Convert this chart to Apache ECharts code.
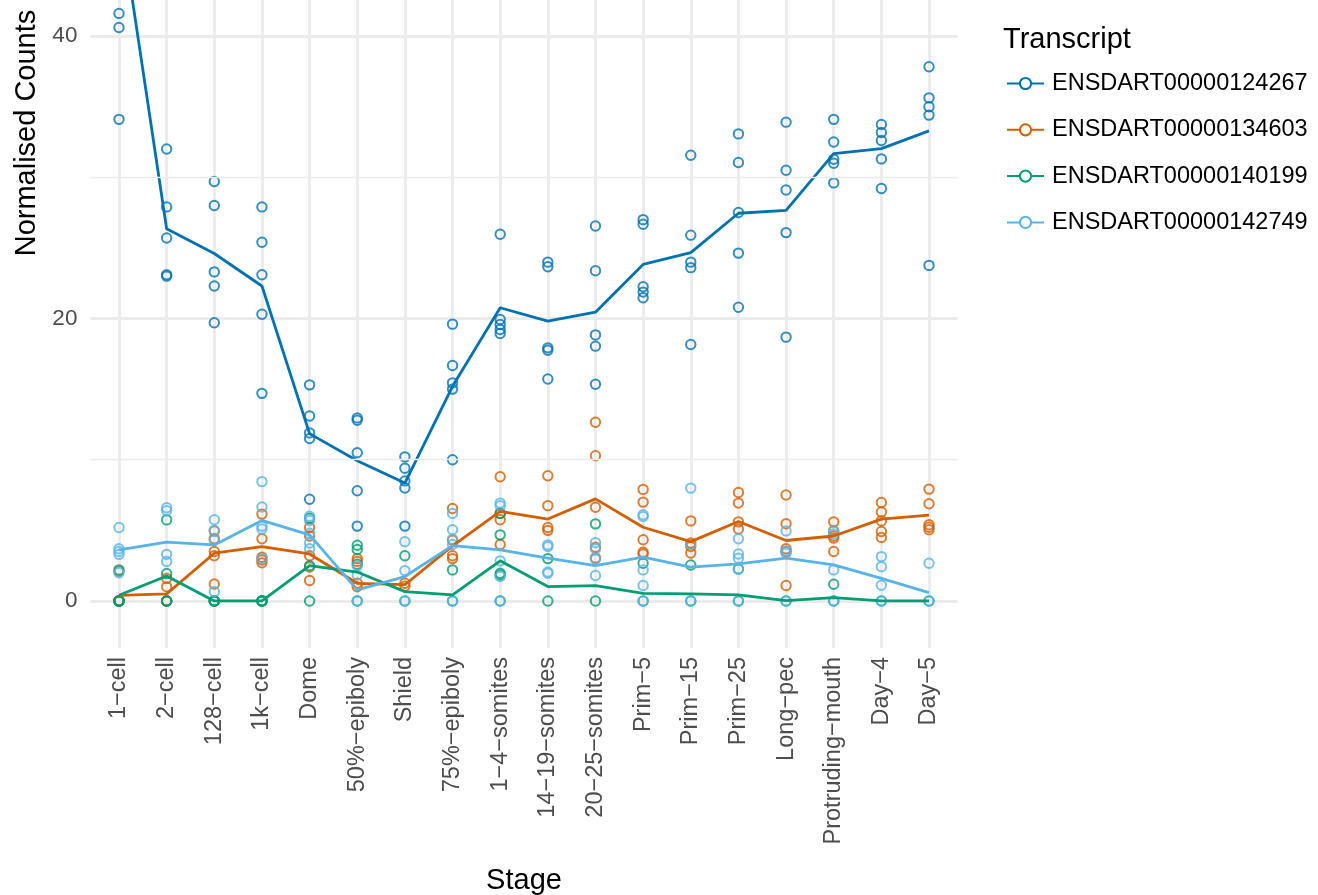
<!DOCTYPE html>
<html><head><meta charset="utf-8">
<script src="https://cdn.jsdelivr.net/npm/echarts@6/dist/echarts.min.js"></script>
<style>html,body{margin:0;padding:0;background:#fff}#c{width:1318px;height:895px}</style>
</head><body><div id="c"></div>
<script>
const stages = ["1\u2212cell","2\u2212cell","128\u2212cell","1k\u2212cell","Dome","50%\u2212epiboly","Shield","75%\u2212epiboly","1\u22124\u2212somites","14\u221219\u2212somites","20\u221225\u2212somites","Prim\u22125","Prim\u221215","Prim\u221225","Long\u2212pec","Protruding\u2212mouth","Day\u22124","Day\u22125"];
const transcripts = ["ENSDART00000124267","ENSDART00000134603","ENSDART00000140199","ENSDART00000142749"];
const colors = ["#0072B2","#D55E00","#009E73","#56B4E9"];
const yLabelValues = [0,20,40];
const yMinorGrid = [10,30];

// replicate points per stage
const pts124267 = [[41.6,40.6,34.1,60.5,68.2],[32.0,27.9,25.7,23.1,23.0],[29.7,28.0,23.3,22.3,19.7],[27.9,25.4,23.1,20.3,14.7],[15.3,13.1,11.9,11.5,7.2],[12.96,12.79,10.5,7.8,5.3],[10.2,9.4,8.5,8.0,5.3],[19.6,16.67,15.44,15.0,10.0],[25.96,19.93,19.57,19.22,18.94],[23.99,23.66,17.92,17.75,15.72],[26.55,23.38,18.84,18.04,15.34],[27.0,26.67,22.25,21.87,21.47],[31.56,25.9,23.99,23.6,18.16],[33.07,31.04,27.5,24.63,20.8],[33.9,30.5,29.1,26.08,18.68],[34.1,32.5,31.28,30.99,29.6],[33.74,33.17,32.6,31.3,29.2],[37.82,35.62,34.99,34.4,23.76]];
const pts134603 = [[2.1,0,0,0,0],[1.6,1.0,0,0,0],[4.95,4.4,3.5,3.2,1.2],[6.15,4.4,3.1,2.9,2.7],[5.2,4.6,3.2,2.4,1.45],[3.0,2.8,1.25,1.0],[1.25,1.05],[6.55,4.3,3.2,3.0],[8.8,6.2,5.75,4.0],[8.87,6.75,5.2,5.0],[12.65,10.28,6.64,3.8,3.05],[7.9,7.0,4.33,3.45,3.33],[5.67,4.1,3.85,3.4],[7.68,6.93,5.6,5.1],[7.5,5.47,3.7,3.5,1.1],[5.6,4.96,4.6,4.45,3.5],[6.97,6.3,5.67,4.92,4.5],[7.92,6.88,5.4,5.22,5.04]];
const pts140199 = [[2.2,0,0,0,0],[5.74,1.95,0,0],[0,0,0,0,0],[0,0,0,0,0],[5.86,2.5,0],[3.95,3.65,2.6,0],[3.2,0],[2.2,0],[6.2,4.68,1.96,1.84,0],[3.0,0],[5.46,0],[2.67,0],[2.55,0],[2.27,0],[0],[1.18,0],[0],[0]];
const pts142749 = [[5.2,3.7,3.5,3.3,2.0],[6.6,6.4,3.3,2.8],[5.75,5.0,4.3,0.66],[8.45,6.65,5.3,5.1,3.0],[6.0,5.7,4.8,4.1,3.7],[2.5,1.84,0],[4.2,2.15,0],[6.2,5.04,4.37,4.0,0],[6.93,6.74,2.84,1.73,0],[3.97,3.85,2.05,1.96],[4.13,3.7,2.95,1.8],[6.1,5.98,2.2,1.09,0],[7.99,4.02,0],[4.4,3.33,3.03,2.25,0],[4.96,3.55,3.38,0],[4.96,4.75,2.2,0],[3.14,2.43,1.11,0],[2.67,0]];

// mean per stage (line)
const mean124267 = [48.9,26.35,24.6,22.3,11.85,9.93,8.35,15.2,20.76,19.81,20.45,23.83,24.66,27.45,27.66,31.68,32.03,33.28];
const mean134603 = [0.4,0.5,3.38,3.85,3.33,1.25,1.15,3.9,6.35,5.8,7.23,5.22,4.2,5.63,4.28,4.6,5.79,6.08];
const mean140199 = [0.4,1.77,0,0,2.5,2.05,0.66,0.43,2.84,1.02,1.09,0.54,0.5,0.43,0.02,0.23,0,0];
const mean142749 = [3.62,4.16,3.97,5.7,4.68,0.78,1.73,3.92,3.62,3.03,2.5,3.1,2.39,2.62,3.03,2.55,1.6,0.59];

const allPts = [pts124267, pts134603, pts140199, pts142749];
const allMeans = [mean124267, mean134603, mean140199, mean142749];

const FONT = "'Liberation Sans', Arial, Helvetica, sans-serif";
const series = [];
// mean lines first (legend icon comes from them)
transcripts.forEach((t, k) => {
  series.push({
    type: 'line', name: t, data: allMeans[k].map((v, i) => [i, v]),
    symbol: 'emptyCircle', showSymbol: false, symbolSize: 10,
    lineStyle: {color: colors[k], width: 2.8}, itemStyle: {color: colors[k]},
    z: 3, silent: true, clip: true
  });
});
transcripts.forEach((t, k) => {
  const data = [];
  allPts[k].forEach((arr, i) => arr.forEach(v => data.push([i, v])));
  series.push({
    type: 'scatter', name: t, data: data, symbol: 'circle', symbolSize: 9.4,
    itemStyle: {color: 'rgba(0,0,0,0)', borderColor: colors[k], borderWidth: 2.0},
    z: 2, silent: true, clip: true
  });
});
series.push({
  type: 'scatter', name: '_grid', data: [], silent: true, z: 1,
  markLine: { silent: true, symbol: ['none','none'], label: {show:false},
    lineStyle: {color:'#EBEBEB', width:1.4, type:'solid'},
    data: yMinorGrid.map(v => ({yAxis: v})) }
});

const chart = echarts.init(document.getElementById('c'), null, {renderer: 'canvas'});
chart.setOption({
  animation: false,
  backgroundColor: '#ffffff',
  textStyle: {fontFamily: FONT},
  grid: {left: 90.4, right: 360.4, top: 0, bottom: 247, containLabel: false, outerBoundsMode: 'none'},
  title: {text: 'Transcript', left: 1003, top: 25, padding: 0,
    textStyle: {fontSize: 29, fontWeight: 'normal', color: '#000', fontFamily: FONT}},
  legend: {
    data: transcripts, orient: 'vertical', left: 1006, top: 71.5,
    itemWidth: 37, itemHeight: 14, itemGap: 22.3, padding: 0,
    textStyle: {fontSize: 23.5, color: '#000', fontFamily: FONT, lineHeight: 24, padding: [0,0,0,3]},
    selectedMode: false
  },
  xAxis: {
    type: 'value', min: -0.6, max: 17.6,
    name: 'Stage', nameLocation: 'middle', nameGap: 218,
    nameTextStyle: {fontSize: 29, color: '#000', fontFamily: FONT},
    axisLine: {show: false}, axisTick: {show: false, customValues: stages.map((s,i)=>i)},
    axisLabel: {customValues: stages.map((s,i)=>i), rotate: 90, margin: 9, fontSize: 23.5, color: '#4D4D4D', fontFamily: FONT,
      formatter: v => stages[Math.round(v)]},
    splitLine: {show: true, lineStyle: {color: '#EBEBEB', width: 2.8}}
  },
  yAxis: {
    type: 'value', min: -3.33, max: 42.55,
    axisLine: {show: false}, axisTick: {show: false, customValues: yLabelValues},
    axisLabel: {customValues: yLabelValues, margin: 13, fontSize: 22.5, color: '#4D4D4D', fontFamily: FONT},
    splitLine: {show: true, lineStyle: {color: '#EBEBEB', width: 2.8}}
  },
  graphic: [{type: 'text', x: 27, y: 133, rotation: Math.PI/2,
    style: {text: 'Normalised Counts', fontSize: 29, fill: '#000', fontFamily: FONT, textAlign: 'center', textVerticalAlign: 'middle'}}],
  series: series
});
</script></body></html>
